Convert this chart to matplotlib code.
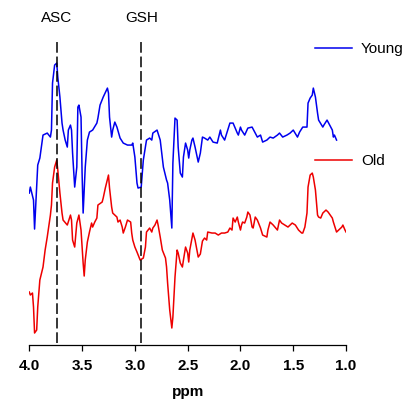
import matplotlib
matplotlib.use("Agg")
import matplotlib.pyplot as plt
from matplotlib.lines import Line2D

plt.rcParams['font.family'] = ['Liberation Sans', 'DejaVu Sans']

# chemical shift (ppm) and intensity (arbitrary units)
young_ppm = [4.00, 3.99, 3.96, 3.95, 3.92, 3.90, 3.87, 3.83, 3.80, 3.79, 3.78, 3.76, 3.74, 3.73,
             3.71, 3.69, 3.68, 3.66, 3.64, 3.63, 3.61, 3.60, 3.59, 3.57, 3.55, 3.54, 3.53, 3.51,
             3.50, 3.49, 3.47, 3.45, 3.43, 3.40, 3.36, 3.35, 3.33, 3.30, 3.26, 3.25, 3.24, 3.22,
             3.21, 3.19, 3.17, 3.14, 3.11, 3.07, 3.03, 3.02, 3.00, 2.98, 2.97, 2.94, 2.92, 2.89,
             2.86, 2.84, 2.83, 2.79, 2.76, 2.73, 2.70, 2.69, 2.67, 2.65, 2.64, 2.62, 2.60, 2.59,
             2.57, 2.55, 2.54, 2.52, 2.50, 2.49, 2.48, 2.46, 2.45, 2.43, 2.40, 2.38, 2.36, 2.34,
             2.31, 2.29, 2.26, 2.22, 2.19, 2.18, 2.15, 2.10, 2.07, 2.03, 2.02, 2.00, 1.99, 1.96,
             1.93, 1.89, 1.86, 1.84, 1.81, 1.79, 1.75, 1.72, 1.69, 1.65, 1.63, 1.60, 1.56, 1.53,
             1.50, 1.46, 1.44, 1.41, 1.37, 1.36, 1.34, 1.32, 1.31, 1.29, 1.27, 1.26, 1.22, 1.21,
             1.18, 1.17, 1.13, 1.12, 1.11, 1.09]
young_int = [152, 158, 145, 116, 180, 187, 210, 212, 208, 215, 262, 280, 282, 268,
             248, 222, 215, 205, 198, 215, 220, 215, 192, 158, 178, 238, 240, 228,
             172, 132, 178, 205, 213, 215, 222, 227, 240, 248, 257, 252, 228, 208,
             215, 223, 218, 207, 202, 200, 200, 202, 188, 162, 157, 158, 185, 205,
             207, 205, 212, 215, 205, 178, 165, 162, 145, 117, 182, 227, 225, 198,
             172, 168, 188, 202, 195, 187, 195, 205, 207, 198, 183, 192, 208, 207,
             205, 208, 203, 202, 215, 210, 205, 222, 222, 212, 210, 218, 215, 210,
             217, 218, 212, 208, 210, 203, 205, 208, 207, 210, 212, 208, 210, 212,
             215, 208, 213, 218, 218, 242, 247, 250, 257, 248, 232, 225, 218, 220,
             225, 223, 215, 208, 210, 205]

old_ppm = [4.00, 3.99, 3.97, 3.96, 3.95, 3.93, 3.92, 3.90, 3.87, 3.85, 3.83, 3.80, 3.79, 3.78,
           3.76, 3.74, 3.73, 3.71, 3.69, 3.68, 3.64, 3.61, 3.60, 3.59, 3.57, 3.55, 3.53, 3.51,
           3.49, 3.48, 3.47, 3.45, 3.43, 3.41, 3.40, 3.38, 3.36, 3.35, 3.31, 3.30, 3.28, 3.25,
           3.24, 3.22, 3.21, 3.17, 3.16, 3.14, 3.12, 3.11, 3.09, 3.07, 3.04, 3.03, 3.02, 3.00,
           2.98, 2.95, 2.92, 2.90, 2.89, 2.86, 2.84, 2.83, 2.81, 2.79, 2.78, 2.76, 2.74, 2.71,
           2.70, 2.69, 2.67, 2.65, 2.64, 2.62, 2.60, 2.59, 2.57, 2.55, 2.54, 2.52, 2.50, 2.49,
           2.48, 2.45, 2.43, 2.40, 2.38, 2.36, 2.34, 2.32, 2.31, 2.27, 2.24, 2.21, 2.18, 2.15,
           2.12, 2.10, 2.08, 2.07, 2.05, 2.03, 2.02, 2.00, 1.99, 1.98, 1.96, 1.94, 1.93, 1.91,
           1.89, 1.88, 1.86, 1.84, 1.81, 1.79, 1.75, 1.74, 1.72, 1.69, 1.65, 1.63, 1.61, 1.58,
           1.55, 1.51, 1.48, 1.45, 1.42, 1.41, 1.39, 1.37, 1.36, 1.34, 1.32, 1.31, 1.29, 1.27,
           1.26, 1.24, 1.22, 1.19, 1.17, 1.13, 1.12, 1.09, 1.07, 1.04, 1.03, 1.01, 1.00]
old_int = [53, 50, 52, 38, 12, 15, 38, 65, 78, 95, 108, 130, 140, 162,
           178, 185, 175, 152, 132, 125, 120, 130, 125, 105, 98, 122, 130, 115,
           82, 69, 85, 103, 113, 122, 118, 123, 127, 140, 143, 147, 157, 170,
           157, 138, 132, 128, 123, 125, 118, 112, 118, 125, 123, 112, 105, 98,
           93, 85, 87, 98, 113, 117, 113, 117, 120, 125, 120, 108, 95, 87,
           78, 62, 35, 17, 28, 68, 95, 92, 82, 78, 85, 98, 92, 83,
           95, 112, 105, 88, 91, 104, 107, 105, 113, 112, 112, 110, 112, 112,
           113, 117, 115, 127, 123, 128, 123, 115, 120, 123, 122, 128, 133, 130,
           118, 117, 128, 125, 117, 110, 108, 115, 123, 120, 115, 125, 122, 120,
           118, 122, 120, 115, 112, 112, 118, 132, 158, 170, 172, 168, 155, 130,
           128, 127, 132, 135, 133, 127, 123, 113, 115, 118, 120, 115, 113]

markers_ppm = [3.74, 2.94]
marker_names = ['ASC', 'GSH']
ticks = [4.0, 3.5, 3.0, 2.5, 2.0, 1.5, 1.0]

fig = plt.figure(figsize=(4.19, 4.03), dpi=100)
ax = fig.add_axes([0.0699, 0.1439, 0.756, 0.831])

ax.plot(young_ppm, young_int, color='#0000ee', lw=1.1, solid_joinstyle='round')
ax.plot(old_ppm, old_int, color='#ee0000', lw=1.1, solid_joinstyle='round')

for p, name in zip(markers_ppm, marker_names):
    ax.plot([p, p], [2, 303], color='black', lw=1.1, dashes=(7, 2.5))
    ax.text(p, 327, name, ha='center', va='center', fontsize=11)

ax.set_xlim(4.0, 1.0)
ax.set_ylim(0, 335)
ax.set_xticks(ticks)
ax.set_xticklabels(['%.1f' % t for t in ticks], fontweight='bold', fontsize=11)
ax.tick_params(axis='x', direction='out', length=4, width=0.9, pad=6)
ax.set_yticks([])
for s in ['top', 'right', 'left']:
    ax.spines[s].set_visible(False)
ax.spines['bottom'].set_linewidth(0.9)
ax.set_xlabel('ppm', fontweight='bold', fontsize=11, labelpad=9)

leg1 = fig.legend([Line2D([], [], color='#0000ee', lw=1.1)], ['Young'],
                  loc='center left', bbox_to_anchor=(0.752, 0.878), frameon=False,
                  borderpad=0, borderaxespad=0, handlelength=2.42, handletextpad=0.59,
                  fontsize=11)
leg2 = fig.legend([Line2D([], [], color='#ee0000', lw=1.1)], ['Old'],
                  loc='center left', bbox_to_anchor=(0.752, 0.600), frameon=False,
                  borderpad=0, borderaxespad=0, handlelength=2.42, handletextpad=0.59,
                  fontsize=11)

fig.savefig('out.png', dpi=100)
